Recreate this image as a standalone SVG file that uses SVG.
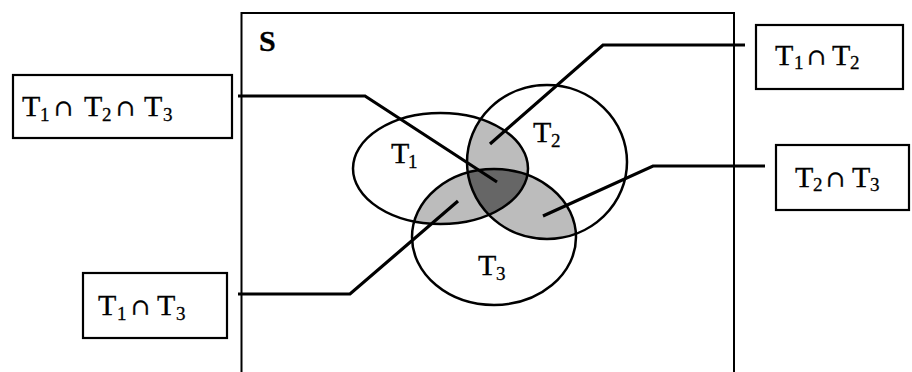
<svg xmlns="http://www.w3.org/2000/svg" width="912" height="372" viewBox="0 0 912 372">
<style>
.frame{fill:none;stroke:#000;stroke-width:2}
.box{fill:#fff;stroke:#000;stroke-width:2.2}
.ell{fill:none;stroke:#000;stroke-width:2.5}
.conn{fill:none;stroke:#000;stroke-width:3.2;stroke-linejoin:miter}
.lbl{font-family:"Liberation Serif","Times New Roman",serif;font-size:30px;fill:#000;stroke:#000;stroke-width:0.3}
.sub{font-size:19px}
.cap{font-family:"DejaVu Serif","DejaVu Sans",serif;font-size:23px}
.light{fill:#bcbcbc}
.dark{fill:#666}
</style>
<defs>
<clipPath id="cT1"><ellipse cx="440.5" cy="168.5" rx="87.5" ry="55.5"/></clipPath>
<clipPath id="cT2"><ellipse cx="547" cy="162" rx="80" ry="77"/></clipPath>
</defs>
<g id="universe">
<path class="frame" d="M241.5,372 V13 H734 V372"/>
<text class="lbl" x="259" y="51" font-weight="bold" font-size="32">S</text>
</g>
<g id="shading">
<g clip-path="url(#cT1)"><ellipse class="light" cx="547" cy="162" rx="80" ry="77"/><ellipse class="light" cx="494" cy="237" rx="82" ry="68"/></g>
<g clip-path="url(#cT2)"><ellipse class="light" cx="494" cy="237" rx="82" ry="68"/></g>
<g clip-path="url(#cT1)"><g clip-path="url(#cT2)"><ellipse class="dark" cx="494" cy="237" rx="82" ry="68"/></g></g>
</g>
<g id="T1">
<ellipse class="ell" cx="440.5" cy="168.5" rx="87.5" ry="55.5"/>
<text class="lbl" x="391" y="163">T<tspan class="sub" x="408" y="168">1</tspan></text>
</g>
<g id="T2">
<ellipse class="ell" cx="547" cy="162" rx="80" ry="77"/>
<text class="lbl" x="533" y="142">T<tspan class="sub" x="551" y="147">2</tspan></text>
</g>
<g id="T3">
<ellipse class="ell" cx="494" cy="237" rx="82" ry="68"/>
<text class="lbl" x="478" y="275">T<tspan class="sub" x="496" y="280">3</tspan></text>
</g>
<g id="connectors">
<polyline class="conn" points="238,96 365,96 497,182"/>
<polyline class="conn" points="238,294 350,294 458,201"/>
<polyline class="conn" points="745,45 603,45 490,144"/>
<polyline class="conn" points="765,166 653,166 543,216"/>
</g>
<g id="box-T1T2T3">
<rect class="box" x="13" y="75" width="219" height="63"/>
<text class="lbl" x="22" y="116">T<tspan class="sub" x="40" y="121">1</tspan><tspan class="cap" x="54" y="116">∩</tspan><tspan x="84" y="116">T</tspan><tspan class="sub" x="102" y="121">2</tspan><tspan class="cap" x="116" y="116">∩</tspan><tspan x="144" y="116">T</tspan><tspan class="sub" x="163" y="121">3</tspan></text>
</g>
<g id="box-T1T3">
<rect class="box" x="83" y="273" width="144" height="65"/>
<text class="lbl" x="98" y="315">T<tspan class="sub" x="117" y="320">1</tspan><tspan class="cap" x="131" y="315">∩</tspan><tspan x="157" y="315">T</tspan><tspan class="sub" x="176" y="320">3</tspan></text>
</g>
<g id="box-T1T2">
<rect class="box" x="756" y="25" width="147" height="64"/>
<text class="lbl" x="775" y="65">T<tspan class="sub" x="794" y="69">1</tspan><tspan class="cap" x="807" y="65">∩</tspan><tspan x="832" y="65">T</tspan><tspan class="sub" x="850" y="69">2</tspan></text>
</g>
<g id="box-T2T3">
<rect class="box" x="776" y="145" width="133" height="65"/>
<text class="lbl" x="795" y="187">T<tspan class="sub" x="813" y="191">2</tspan><tspan class="cap" x="826" y="187">∩</tspan><tspan x="852" y="187">T</tspan><tspan class="sub" x="870" y="191">3</tspan></text>
</g>
</svg>
